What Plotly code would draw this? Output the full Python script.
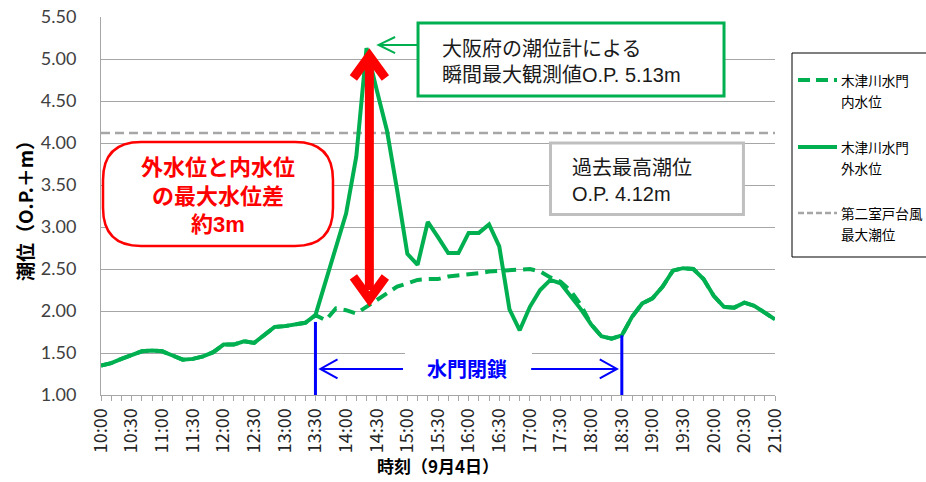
import plotly.graph_objects as go

# ---------------- data ----------------
times = [
    "10:00", "10:10", "10:20", "10:30", "10:40", "10:50",
    "11:00", "11:10", "11:20", "11:30", "11:40", "11:50",
    "12:00", "12:10", "12:20", "12:30", "12:40", "12:50",
    "13:00", "13:10", "13:20", "13:30", "13:40", "13:50",
    "14:00", "14:10", "14:20", "14:30", "14:40", "14:50",
    "15:00", "15:10", "15:20", "15:30", "15:40", "15:50",
    "16:00", "16:10", "16:20", "16:30", "16:40", "16:50",
    "17:00", "17:10", "17:20", "17:30", "17:40", "17:50",
    "18:00", "18:10", "18:20", "18:30", "18:40", "18:50",
    "19:00", "19:10", "19:20", "19:30", "19:40", "19:50",
    "20:00", "20:10", "20:20", "20:30", "20:40", "20:50",
    "21:00",
]

# 木津川水門 外水位 (outer water level, O.P.+m)
outer_level = [
    1.35, 1.38, 1.43, 1.48, 1.52, 1.53,
    1.52, 1.47, 1.42, 1.43, 1.46, 1.51,
    1.60, 1.60, 1.64, 1.62, 1.71, 1.81,
    1.82, 1.84, 1.86, 1.95, 2.36, 2.77,
    3.16, 3.84, 5.13, 4.63, 4.15, 3.44,
    2.68, 2.55, 3.06, 2.88, 2.69, 2.69,
    2.93, 2.93, 3.03, 2.77, 2.02, 1.77,
    2.05, 2.25, 2.37, 2.33, 2.17, 2.02,
    1.84, 1.70, 1.67, 1.71, 1.93, 2.09,
    2.15, 2.29, 2.48, 2.51, 2.50, 2.38,
    2.18, 2.05, 2.04, 2.10, 2.06, 1.98,
    1.90,
]

# 木津川水門 内水位 (inner water level, O.P.+m)
inner_level = [
    1.35, 1.38, 1.43, 1.48, 1.52, 1.53,
    1.52, 1.47, 1.42, 1.43, 1.46, 1.51,
    1.60, 1.60, 1.64, 1.62, 1.71, 1.81,
    1.82, 1.84, 1.86, 1.95, 1.89, 2.03,
    2.01, 1.97, 2.05, 2.13, 2.22, 2.29,
    2.33, 2.37, 2.38, 2.38, 2.41, 2.42,
    2.43, 2.45, 2.47, 2.48, 2.49, 2.50,
    2.50, 2.47, 2.40, 2.35, 2.24, 2.07,
    1.84, 1.70, 1.67, 1.71, 1.93, 2.09,
    2.15, 2.29, 2.48, 2.51, 2.50, 2.38,
    2.18, 2.05, 2.04, 2.10, 2.06, 1.98,
    1.90,
]

# 第二室戸台風 最大潮位
typhoon_max_level = 4.12

tick_labels = [
    "10:00", "10:30", "11:00", "11:30", "12:00", "12:30", "13:00", "13:30",
    "14:00", "14:30", "15:00", "15:30", "16:00", "16:30", "17:00", "17:30",
    "18:00", "18:30", "19:00", "19:30", "20:00", "20:30", "21:00",
]

series_names = [["木津川水門", "内水位"], ["木津川水門", "外水位"], ["第二室戸台風", "最大潮位"]]

gate_close_time = "13:30"
gate_open_time = "18:30"
peak_value = 5.13


def to_hours(s):
    h, m = s.split(":")
    return int(h) + int(m) / 60.0


x = [to_hours(t) for t in times]
tickvals = [to_hours(t) for t in tick_labels]

GREEN = "#00B050"
GRAY = "#A6A6A6"
JP = "Noto Sans CJK JP"
MIX = "Liberation Sans, Noto Sans CJK JP"

# plot-area geometry (pixels) for paper-coordinate helpers
L, R, T, B = 101, 151, 17, 87
PW, PH = 926 - L - R, 482 - T - B


def px(xp):
    return (xp - L) / PW


def py(yp):
    return (482 - B - yp) / PH


fig = go.Figure()

fig.add_trace(go.Scatter(
    x=[x[0], x[-1]], y=[typhoon_max_level, typhoon_max_level],
    mode="lines", name="<br>".join(series_names[2]),
    line=dict(color=GRAY, width=2.5, dash="9px,5px"),
))
fig.add_trace(go.Scatter(
    x=x, y=inner_level, mode="lines", name="<br>".join(series_names[0]),
    line=dict(color=GREEN, width=4, dash="12px,7px"),
))
fig.add_trace(go.Scatter(
    x=x, y=outer_level, mode="lines", name="<br>".join(series_names[1]),
    line=dict(color=GREEN, width=4),
))

t_close = to_hours(gate_close_time)
t_open = to_hours(gate_open_time)
t_peak = 14.38

shapes = []
# red rounded box
X0, X1, Y0, Y1 = 10.033, 13.786, 2.774, 4.012
rx, ry = 0.62, 0.452
path = (f"M {X0+rx},{Y1} L {X1-rx},{Y1} Q {X1},{Y1} {X1},{Y1-ry} "
        f"L {X1},{Y0+ry} Q {X1},{Y0} {X1-rx},{Y0} L {X0+rx},{Y0} "
        f"Q {X0},{Y0} {X0},{Y0+ry} L {X0},{Y1-ry} Q {X0},{Y1} {X0+rx},{Y1} Z")
shapes.append(dict(type="path", path=path, xref="x", yref="y",
                   line=dict(color="#FF0000", width=2.5), fillcolor="white"))
# green box
shapes.append(dict(type="rect", xref="x", yref="y", x0=15.174, x1=20.168, y0=4.560, y1=5.429,
                   line=dict(color=GREEN, width=3), fillcolor="white"))
# gray box
shapes.append(dict(type="rect", xref="x", yref="y", x0=17.336, x1=20.485, y0=3.149, y1=4.0,
                   line=dict(color="#BFBFBF", width=3), fillcolor="white"))
# white cover behind 水門閉鎖
shapes.append(dict(type="rect", xref="x", yref="y", x0=14.962, x1=17.034, y0=1.45, y1=1.56,
                   line=dict(width=0), fillcolor="white"))
# green pointer arrow
shapes.append(dict(type="line", xref="x", yref="y", x0=15.174, x1=14.53, y0=5.167, y1=5.167,
                   line=dict(color=GREEN, width=2)))
shapes.append(dict(type="path", xref="x", yref="y",
                   path="M 14.80,5.262 L 14.53,5.167 L 14.80,5.071",
                   line=dict(color=GREEN, width=2)))
# red double arrow
shapes.append(dict(type="line", xref="x", yref="y", x0=t_peak, x1=t_peak, y0=2.25, y1=4.95,
                   line=dict(color="#FF0000", width=9)))
shapes.append(dict(type="path", xref="x", yref="y",
                   path=f"M {t_peak-0.261},4.774 L {t_peak},5.036 L {t_peak+0.261},4.774",
                   line=dict(color="#FF0000", width=9)))
shapes.append(dict(type="path", xref="x", yref="y",
                   path=f"M {t_peak-0.261},2.405 L {t_peak},2.143 L {t_peak+0.261},2.405",
                   line=dict(color="#FF0000", width=9)))
# blue gate lines
shapes.append(dict(type="line", xref="x", yref="y", x0=t_close, x1=t_close, y0=1.0, y1=1.87,
                   line=dict(color="#0000FF", width=3)))
shapes.append(dict(type="line", xref="x", yref="y", x0=t_open, x1=t_open, y0=1.0, y1=1.71,
                   line=dict(color="#0000FF", width=3)))
# blue arrows
shapes.append(dict(type="line", xref="x", yref="y", x0=14.929, x1=13.58, y0=1.31, y1=1.31,
                   line=dict(color="#0000FF", width=2)))
shapes.append(dict(type="path", xref="x", yref="y",
                   path="M 13.86,1.423 L 13.58,1.31 L 13.86,1.197",
                   line=dict(color="#0000FF", width=2)))
shapes.append(dict(type="line", xref="x", yref="y", x0=17.02, x1=18.42, y0=1.31, y1=1.31,
                   line=dict(color="#0000FF", width=2)))
shapes.append(dict(type="path", xref="x", yref="y",
                   path="M 18.14,1.423 L 18.42,1.31 L 18.14,1.197",
                   line=dict(color="#0000FF", width=2)))

# ---- legend (drawn in paper coordinates) ----
shapes.append(dict(type="rect", xref="paper", yref="paper",
                   x0=px(792), x1=px(935), y0=py(257), y1=py(53),
                   line=dict(color="#000000", width=1), fillcolor="white"))
legend_styles = [
    dict(color=GREEN, width=4, dash="12px,6px"),
    dict(color=GREEN, width=4),
    dict(color=GRAY, width=2.5, dash="6px,3px"),
]
legend_rows = [80, 147, 213]
annotations = []
for (l1, l2), st, yr in zip(series_names, legend_styles, legend_rows):
    shapes.append(dict(type="line", xref="paper", yref="paper",
                       x0=px(798), x1=px(837), y0=py(yr), y1=py(yr), line=st))
    annotations.append(dict(x=px(840), y=py(yr), xref="paper", yref="paper",
                            xanchor="left", yanchor="middle", text=l1, showarrow=False,
                            borderpad=0, font=dict(family=JP, size=13.6, color="#000000")))
    annotations.append(dict(x=px(840), y=py(yr + 21), xref="paper", yref="paper",
                            xanchor="left", yanchor="middle", text=l2, showarrow=False,
                            borderpad=0, font=dict(family=JP, size=13.6, color="#000000")))

annotations += [
    dict(x=15.533, y=4.964, xref="x", yref="y", xanchor="left", yanchor="middle",
         text=f"大阪府の潮位計による<br>瞬間最大観測値O.P. {peak_value:.2f}m", align="left",
         showarrow=False, font=dict(family=MIX, size=20, color="#1A1A1A")),
    dict(x=17.655, y=3.548, xref="x", yref="y", xanchor="left", yanchor="middle",
         text=f"過去最高潮位<br>O.P. {typhoon_max_level:.2f}m", align="left",
         showarrow=False, font=dict(family=MIX, size=20, color="#1A1A1A")),
    dict(x=11.91, y=3.369, xref="x", yref="y", xanchor="center", yanchor="middle",
         text="<b>外水位と内水位<br>の最大水位差<br>約3m</b>", align="center",
         showarrow=False, font=dict(family=MIX, size=22, color="#FF0000")),
    dict(x=15.974, y=1.31, xref="x", yref="y", xanchor="center", yanchor="middle",
         text="<b>水門閉鎖</b>", showarrow=False,
         font=dict(family=JP, size=20, color="#0000FF")),
]

fig.update_layout(
    width=926, height=482,
    margin=dict(l=L, r=R, t=T, b=B, autoexpand=False),
    paper_bgcolor="white", plot_bgcolor="white",
    shapes=shapes, annotations=annotations,
    showlegend=False,
    xaxis=dict(
        range=[10, 21], tickmode="array", tickvals=tickvals, ticktext=tick_labels,
        tickangle=-90, ticks="outside", ticklen=5, tickcolor=GRAY, automargin=False,
        showline=True, linecolor=GRAY, linewidth=1, showgrid=False, zeroline=False,
        tickfont=dict(family=JP, size=18, color="#262626"),
        minor=dict(tickmode="linear", tick0=10, dtick=1 / 6, ticks="outside",
                   ticklen=5, tickcolor=GRAY, showgrid=False),
        title=dict(text="<b>時刻（9月4日）</b>", standoff=8,
                   font=dict(family=JP, size=17, color="#000000")),
    ),
    yaxis=dict(
        range=[1.0, 5.5], tickmode="linear", tick0=1.0, dtick=0.5, tickformat=".2f",
        showline=True, linecolor=GRAY, linewidth=1, showgrid=True, gridcolor=GRAY,
        gridwidth=1, zeroline=False, ticks="", ticklabelstandoff=20, automargin=False,
        tickfont=dict(family="Lato", size=18, color="#404040"),
        title=dict(text="<b>潮位（O.P.＋m）</b>", standoff=2,
                   font=dict(family=JP, size=19, color="#000000")),
    ),
)

fig.write_html(
    "out.html",
    config={"displayModeBar": False},
    post_script="document.body.style.margin='0';document.body.style.overflow='hidden';",
)
